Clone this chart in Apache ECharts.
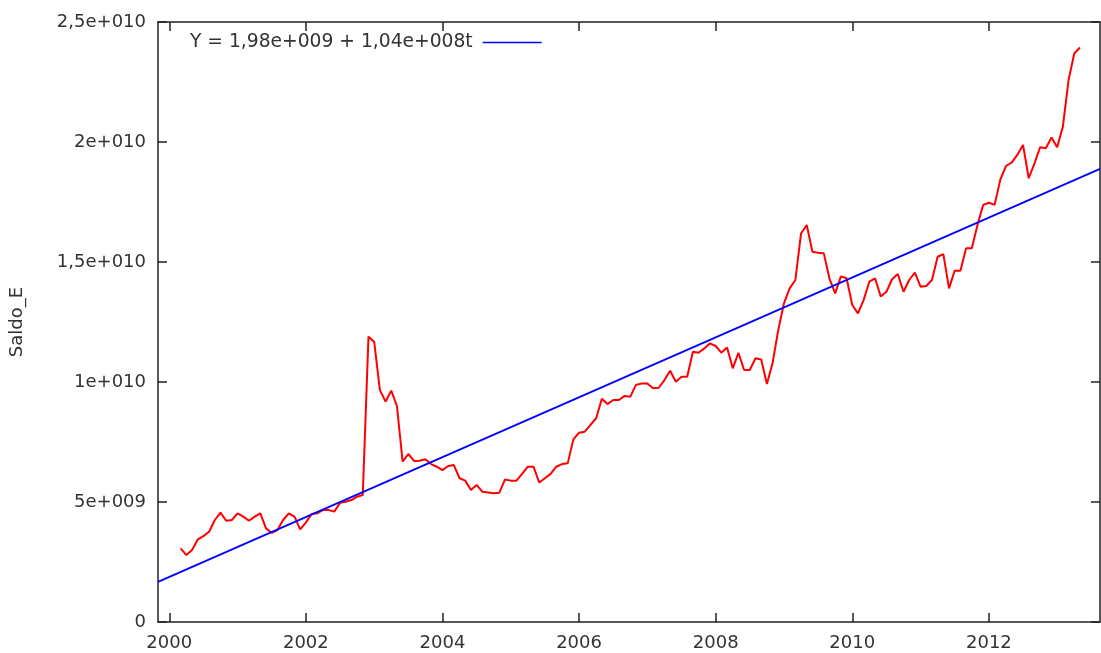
<!DOCTYPE html>
<html>
<head>
<meta charset="utf-8">
<script src="https://cdn.jsdelivr.net/npm/echarts@6/dist/echarts.min.js"></script>
<style>
  html, body { margin: 0; padding: 0; background: #fff; }
  #chart { width: 1101px; height: 653px; }
</style>
</head>
<body>
<div id="chart"></div>
<script>
// monthly series, first obs 2000:03, values in units of 1e9
var startYear = 2000
var startMonth = 3
var saldo = [3.07, 2.79, 3.0, 3.44, 3.58, 3.76, 4.25, 4.56, 4.22, 4.25, 4.53, 4.39, 4.22, 4.39, 4.53,
  3.90, 3.72, 3.83, 4.25, 4.53, 4.39, 3.86, 4.14, 4.5, 4.53, 4.67, 4.67, 4.6, 4.97, 5.01,
  5.08, 5.22, 5.29, 11.89, 11.68, 9.67, 9.18, 9.64, 9.0, 6.68, 7.0, 6.71, 6.72, 6.78, 6.58,
  6.47, 6.33, 6.5, 6.54, 5.99, 5.89, 5.5, 5.71, 5.43, 5.40, 5.36, 5.39, 5.94, 5.89, 5.89,
  6.17, 6.47, 6.47, 5.81, 5.99, 6.17, 6.47, 6.58, 6.61, 7.61, 7.89, 7.93, 8.21, 8.49, 9.3,
  9.08, 9.25, 9.25, 9.42, 9.39, 9.88, 9.94, 9.94, 9.74, 9.76, 10.08, 10.47, 10.01, 10.22, 10.22,
  11.26, 11.22, 11.40, 11.61, 11.5, 11.22, 11.44, 10.57, 11.22, 10.5, 10.5, 10.99, 10.94, 9.92, 10.79,
  12.17, 13.28, 13.9, 14.25, 16.19, 16.54, 15.43, 15.39, 15.36, 14.3, 13.69, 14.4, 14.32, 13.21, 12.86,
  13.42, 14.18, 14.32, 13.56, 13.76, 14.28, 14.5, 13.76, 14.25, 14.56, 13.97, 14.0, 14.25, 15.22, 15.33,
  13.9, 14.64, 14.64, 15.57, 15.57, 16.54, 17.38, 17.47, 17.38, 18.42, 19.0, 19.14, 19.46, 19.88, 18.49,
  19.1, 19.78, 19.74, 20.19, 19.78, 20.64, 22.58, 23.69, 23.94]

// fitted trend: Y = 1,98e+009 + 1,04e+008t (t = 1 at first obs)
var trendIntercept = 1.98
var trendSlope = 0.104
var trendName = 'Y = 1,98e+009 + 1,04e+008t'

var xMin = 1999.835
var xMax = 2013.627
var xTicks = [2000, 2002, 2004, 2006, 2008, 2010, 2012]
var yTicks = [0, 5, 10, 15, 20, 25]
var yTickLabels = ['0', '5e+009', '1e+010', '1,5e+010', '2e+010', '2,5e+010']

var t0 = startYear + (startMonth - 1) / 12
var saldoData = saldo.map(function (v, i) {
  return [t0 + i / 12, v]
})
function trendAt(x) {
  var t = 1 + (x - t0) * 12
  return trendIntercept + trendSlope * t
}
var trendData = [[xMin, trendAt(xMin)], [xMax, trendAt(xMax)]]

var font = 'DejaVu Sans'
var frame = {show: true, onZero: false, lineStyle: {color: '#222', width: 1.5}}
var tick = {show: true, inside: true, length: 9, lineStyle: {color: '#222', width: 1.5}}

var chart = echarts.init(document.getElementById('chart'))
chart.setOption({
  animation: false,
  grid: {left: 157, right: 1, top: 22, bottom: 31},
  legend: {
    data: [trendName],
    left: 185,
    top: 28,
    align: 'right',
    icon: 'rect',
    itemWidth: 59,
    itemHeight: 1.6,
    textStyle: {fontFamily: font, fontSize: 18.7, color: '#333', padding: [0, 5, 0, 0]}
  },
  xAxis: [{
    type: 'value',
    min: xMin,
    max: xMax,
    splitLine: {show: false},
    axisLine: frame,
    axisTick: Object.assign({customValues: xTicks}, tick),
    axisLabel: {
      customValues: xTicks,
      margin: 12,
      fontFamily: font,
      fontSize: 18,
      color: '#333',
      formatter: function (v) { return String(Math.round(v)) }
    }
  }, {
    type: 'value',
    position: 'top',
    min: xMin,
    max: xMax,
    splitLine: {show: false},
    axisLine: frame,
    axisTick: Object.assign({customValues: xTicks}, tick),
    axisLabel: {show: false}
  }],
  yAxis: [{
    type: 'value',
    min: 0,
    max: 25,
    interval: 5,
    name: 'Saldo_E',
    nameLocation: 'middle',
    nameGap: 132,
    nameTextStyle: {fontFamily: font, fontSize: 18, color: '#333'},
    splitLine: {show: false},
    axisLine: frame,
    axisTick: tick,
    axisLabel: {
      margin: 12,
      fontFamily: font,
      fontSize: 18,
      color: '#333',
      formatter: function (v) { return yTickLabels[yTicks.indexOf(v)] }
    }
  }, {
    type: 'value',
    position: 'right',
    min: 0,
    max: 25,
    interval: 5,
    splitLine: {show: false},
    axisLine: frame,
    axisTick: tick,
    axisLabel: {show: false}
  }],
  series: [{
    name: 'Saldo_E',
    type: 'line',
    data: saldoData,
    symbol: 'none',
    lineStyle: {color: '#ff0000', width: 2},
    itemStyle: {color: '#ff0000'}
  }, {
    name: trendName,
    type: 'line',
    data: trendData,
    symbol: 'none',
    lineStyle: {color: '#0000ff', width: 1.8},
    itemStyle: {color: '#0000ff'}
  }]
})
</script>
</body>
</html>
